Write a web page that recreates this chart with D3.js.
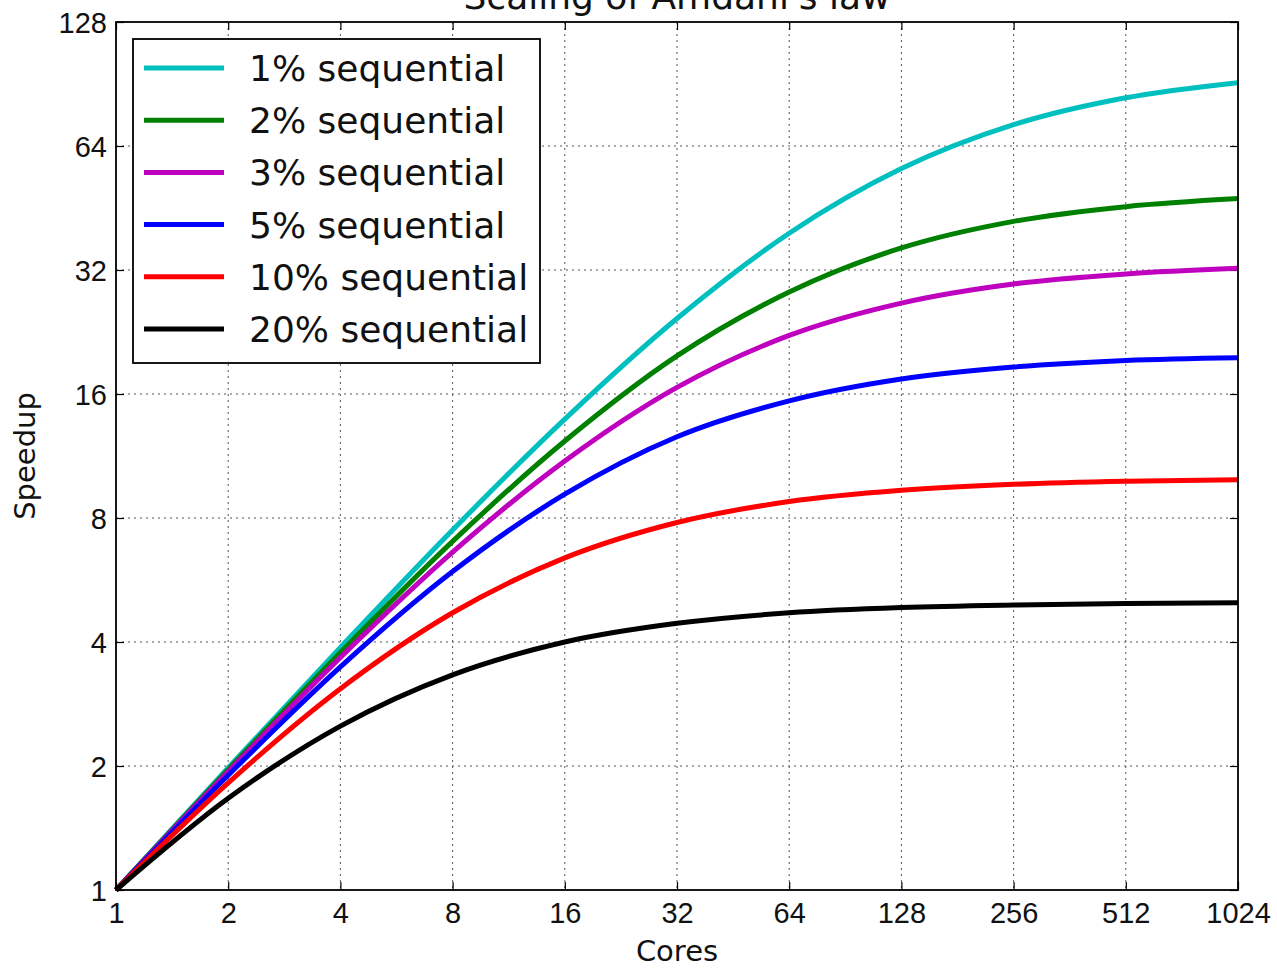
<!DOCTYPE html>
<html>
<head>
<meta charset="utf-8">
<script src="https://cdn.jsdelivr.net/npm/d3@7"></script>
<style>
  body { margin: 0; background: #fff; }
  svg { display: block; font-family: "DejaVu Sans", sans-serif; }
</style>
</head>
<body>
<div id="chart"></div>
<script>
// cores on the x axis
var cores = [1, 2, 4, 8, 16, 32, 64, 128, 256, 512, 1024];

// speedup, one array per curve
var seq1  = [1, 1.98, 3.88, 7.48, 13.9, 24.4, 39.3, 56.4, 72.1, 83.8, 91.2];
var seq2  = [1, 1.96, 3.77, 7.02, 12.3, 19.8, 28.3, 36.2, 42.0, 45.6, 47.7];
var seq3  = [1, 1.94, 3.67, 6.61, 11.0, 16.6, 22.2, 26.6, 29.6, 31.3, 32.3];
var seq5  = [1, 1.90, 3.48, 5.93, 9.14, 12.6, 15.4, 17.4, 18.6, 19.3, 19.6];
var seq10 = [1, 1.82, 3.08, 4.71, 6.40, 7.80, 8.77, 9.34, 9.66, 9.83, 9.91];
var seq20 = [1, 1.67, 2.50, 3.33, 4.00, 4.44, 4.71, 4.85, 4.92, 4.96, 4.98];

var seriesNames = ["1% sequential", "2% sequential", "3% sequential",
                   "5% sequential", "10% sequential", "20% sequential"];
var seriesColors = ["#00bfbf", "#008000", "#bf00bf", "#0000ff", "#ff0000", "#000000"];
var seriesValues = [seq1, seq2, seq3, seq5, seq10, seq20];

var yTicks = [1, 2, 4, 8, 16, 32, 64, 128];

var W = 1277, H = 969;
var margin = { top: 22, right: 39, bottom: 79, left: 116 };
var width = W - margin.left - margin.right;
var height = H - margin.top - margin.bottom;

var svg = d3.select("#chart").append("svg")
    .attr("width", W)
    .attr("height", H);

var g = svg.append("g")
    .attr("transform", "translate(" + margin.left + "," + margin.top + ")");

var x = d3.scaleLog().base(2).domain([1, 1024]).range([0, width]);
var y = d3.scaleLog().base(2).domain([1, 128]).range([height, 0]);

// grid
g.append("g").selectAll("line")
    .data(cores.slice(1, -1))
    .enter().append("line")
    .attr("x1", d => x(d)).attr("x2", d => x(d))
    .attr("y1", 0).attr("y2", height)
    .attr("stroke", "#555").attr("stroke-width", 1)
    .attr("stroke-dasharray", "2,4");
g.append("g").selectAll("line")
    .data(yTicks.slice(1, -1))
    .enter().append("line")
    .attr("y1", d => y(d)).attr("y2", d => y(d))
    .attr("x1", 0).attr("x2", width)
    .attr("stroke", "#555").attr("stroke-width", 1)
    .attr("stroke-dasharray", "2,4");

// axes, classic style ticks pointing inward on all sides
var fmt = d3.format("d");
var xBottom = g.append("g").attr("transform", "translate(0," + height + ")")
    .call(d3.axisBottom(x).tickValues(cores).tickFormat(fmt).tickSizeInner(-8).tickSizeOuter(0).tickPadding(12));
var xTop = g.append("g")
    .call(d3.axisTop(x).tickValues(cores).tickFormat("").tickSizeInner(-8).tickSizeOuter(0));
var yLeft = g.append("g")
    .call(d3.axisLeft(y).tickValues(yTicks).tickFormat(fmt).tickSizeInner(-8).tickSizeOuter(0).tickPadding(9));
var yRight = g.append("g").attr("transform", "translate(" + width + ",0)")
    .call(d3.axisRight(y).tickValues(yTicks).tickFormat("").tickSizeInner(-8).tickSizeOuter(0));

[xBottom, xTop, yLeft, yRight].forEach(function (a) {
    a.select(".domain").remove();
    a.selectAll("line").attr("stroke", "#000").attr("stroke-width", 1.2);
    a.selectAll("text").attr("fill", "#111").style("font-size", "29px");
});
yLeft.selectAll("text").attr("dy", "0.36em");

// curves
var line = d3.line()
    .x((d, i) => x(cores[i]))
    .y(d => y(d))
    .curve(d3.curveMonotoneX);

g.append("g").selectAll("path")
    .data(seriesValues)
    .enter().append("path")
    .attr("d", line)
    .attr("fill", "none")
    .attr("stroke", (d, i) => seriesColors[i])
    .attr("stroke-width", 5)
    .attr("stroke-linejoin", "round");

// frame
g.append("rect")
    .attr("width", width).attr("height", height)
    .attr("fill", "none").attr("stroke", "#000").attr("stroke-width", 1.8);

// legend
var legend = g.append("g").attr("transform", "translate(17,17)");
legend.append("rect")
    .attr("width", 407).attr("height", 324)
    .attr("fill", "#fff").attr("stroke", "#000").attr("stroke-width", 1.8);
var rows = legend.selectAll(".row")
    .data(seriesNames)
    .enter().append("g")
    .attr("transform", (d, i) => "translate(0," + (29 + i * 52.2) + ")");
rows.append("line")
    .attr("x1", 11).attr("x2", 91)
    .attr("stroke", (d, i) => seriesColors[i])
    .attr("stroke-width", 5);
rows.append("text")
    .attr("x", 116).attr("dy", "0.36em")
    .style("font-size", "36px").attr("fill", "#111")
    .text(d => d);

// title and labels
svg.append("text")
    .attr("x", margin.left + width / 2).attr("y", 9)
    .attr("text-anchor", "middle").style("font-size", "36px").attr("fill", "#111")
    .text("Scaling of Amdahl's law");
svg.append("text")
    .attr("x", margin.left + width / 2).attr("y", 961)
    .attr("text-anchor", "middle").style("font-size", "29px").attr("fill", "#111")
    .text("Cores");
svg.append("text")
    .attr("transform", "translate(35," + (margin.top + height / 2) + ") rotate(-90)")
    .attr("text-anchor", "middle").style("font-size", "29px").attr("fill", "#111")
    .text("Speedup");
</script>
</body>
</html>
